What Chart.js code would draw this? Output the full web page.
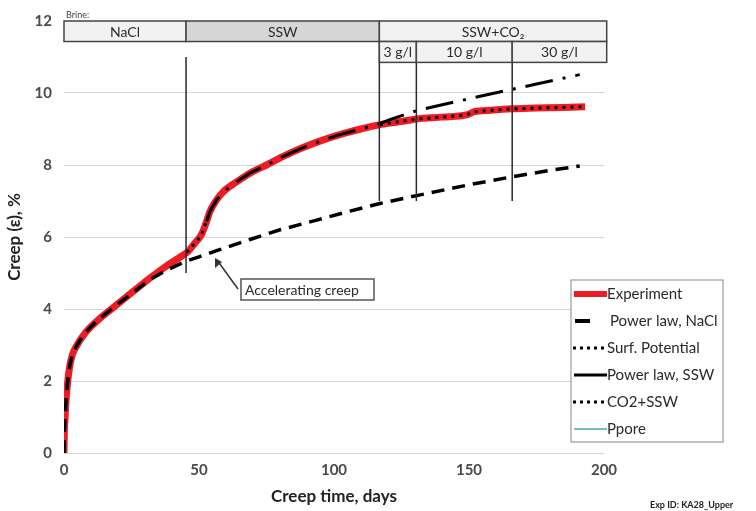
<!DOCTYPE html>
<html>
<head>
<meta charset="utf-8">
<script src="https://cdn.jsdelivr.net/npm/chart.js@4.4.0/dist/chart.umd.min.js"></script>
<style>
html, body { margin: 0; background: #fff; }
</style>
</head>
<body>
<canvas id="creep-chart" width="756" height="511"></canvas>
<script>
// creep data (days, creep %)
var expDays  = [0, 0.1, 0.4, 0.8, 1.4, 2.2, 3.2, 4.7, 7, 9.6, 13, 17.6, 25, 32, 38, 44.2, 46, 47.9, 49.5, 51, 52.8, 54, 56.5, 59, 63.9, 69, 75, 81, 87.4, 95, 103.4, 110, 117, 124, 130.6, 140, 149, 152, 158, 165.8, 175, 185, 193];
var expCreep = [0, 0.5, 1.0, 1.5, 2.0, 2.45, 2.75, 2.98, 3.25, 3.48, 3.72, 4.0, 4.45, 4.87, 5.2, 5.5, 5.6, 5.78, 5.92, 6.08, 6.43, 6.7, 7.03, 7.26, 7.53, 7.78, 8.0, 8.23, 8.45, 8.67, 8.87, 9.0, 9.12, 9.2, 9.28, 9.33, 9.39, 9.48, 9.52, 9.56, 9.58, 9.6, 9.62];

var naclDays  = [0, 0.1, 0.4, 0.8, 1.4, 2.2, 3.2, 4.7, 7, 9.6, 13, 17.6, 25, 32, 38, 45, 50, 56.5, 68.9, 80, 93.6, 105.9, 117, 130.6, 150, 165.8, 180, 191];
var naclCreep = [0, 0.5, 1.0, 1.5, 2.0, 2.45, 2.75, 2.98, 3.25, 3.48, 3.72, 4.0, 4.43, 4.82, 5.08, 5.32, 5.45, 5.62, 5.93, 6.2, 6.47, 6.72, 6.93, 7.15, 7.45, 7.67, 7.85, 7.97];

var surfDays  = [45.5, 47.9, 49.5, 51, 52.8, 54, 56.5];
var surfCreep = [5.58, 5.78, 5.92, 6.08, 6.43, 6.7, 7.03];

var sswDays  = [52.8, 54, 56.5, 59, 63.9, 69, 75, 81, 87.4, 95, 103.4, 110, 117, 120.7, 130.6, 141.7, 150, 164, 175, 191];
var sswCreep = [6.43, 6.7, 7.03, 7.26, 7.53, 7.78, 8.0, 8.23, 8.45, 8.67, 8.87, 9.0, 9.15, 9.26, 9.51, 9.7, 9.84, 10.07, 10.25, 10.51];

var co2Days  = [117, 124, 130.6, 140, 149, 152, 158, 165.8, 175, 185, 193];
var co2Creep = [9.12, 9.2, 9.28, 9.33, 9.39, 9.48, 9.52, 9.56, 9.58, 9.6, 9.62];

// brine change markers
var markerDays = [45.2, 116.8, 130.5, 166];
var markerLow  = [5, 7, 7, 7];
var markerHigh = [11, 11.43, 11.43, 11.43];

// brine band labels
var brineNames = ['NaCl', 'SSW', 'SSW+CO\u2082'];
var brineStart = [0, 45.2, 116.8];
var brineEnd   = [45.2, 116.8, 201];
var co2Names = ['3 g/l', '10 g/l', '30 g/l'];
var co2Start = [116.8, 130.5, 166];
var co2End   = [130.5, 166, 201];

var legendLabels = ['Experiment', 'Power law, NaCl', 'Surf. Potential', 'Power law, SSW', 'CO2+SSW', 'Ppore'];

var FONT = 'Lato, "Open Sans", sans-serif';

function pts(xs, ys) {
    return xs.map(function(v, i) { return {x: v, y: ys[i]}; });
}

var markerSets = markerDays.map(function(d, i) {
    return {
        data: [{x: d, y: markerLow[i]}, {x: d, y: markerHigh[i]}],
        borderColor: '#2a2a2a',
        borderWidth: 1.5,
        pointRadius: 0,
        order: 0
    };
});

var bandPlugin = {
    id: 'brineBand',
    afterDraw: function(chart) {
        var ctx = chart.ctx;
        var x = chart.scales.x, y = chart.scales.y;
        ctx.save();
        var r1t = y.getPixelForValue(12), r1b = y.getPixelForValue(11.43), r2b = y.getPixelForValue(10.85);
        ctx.lineWidth = 1.5;
        ctx.strokeStyle = '#444';
        ctx.textAlign = 'center';
        ctx.textBaseline = 'middle';
        ctx.fillStyle = '#333';
        for (var i = 0; i < brineNames.length; i++) {
            var a = x.getPixelForValue(brineStart[i]), b = x.getPixelForValue(brineEnd[i]);
            ctx.fillStyle = i === 1 ? '#d6d6d6' : '#f2f2f2';
            ctx.fillRect(a, r1t, b - a, r1b - r1t);
            ctx.strokeRect(a, r1t, b - a, r1b - r1t);
            ctx.fillStyle = '#2a2a2a';
            ctx.font = '14px ' + FONT;
            ctx.fillText(brineNames[i], (a + b) / 2, (r1t + r1b) / 2 + 1);
        }
        for (var j = 0; j < co2Names.length; j++) {
            var c = x.getPixelForValue(co2Start[j]), d = x.getPixelForValue(co2End[j]);
            ctx.fillStyle = '#f2f2f2';
            ctx.fillRect(c, r1b, d - c, r2b - r1b);
            ctx.strokeRect(c, r1b, d - c, r2b - r1b);
            ctx.fillStyle = '#2a2a2a';
            ctx.font = '14px ' + FONT;
            ctx.fillText(co2Names[j], (c + d) / 2, (r1b + r2b) / 2 + 1);
        }
        ctx.font = '9px ' + FONT;
        ctx.textAlign = 'left';
        ctx.fillStyle = '#444';
        ctx.fillText('Brine:', x.left + 2, r1t - 6);

        // accelerating creep note
        ctx.lineWidth = 1.5;
        ctx.strokeStyle = '#555';
        ctx.fillStyle = '#fff';
        ctx.fillRect(241, 279, 133, 21);
        ctx.strokeRect(241, 279, 133, 21);
        ctx.fillStyle = '#2a2a2a';
        ctx.font = '14px ' + FONT;
        ctx.fillText('Accelerating creep', 245, 290);
        ctx.strokeStyle = '#333';
        ctx.beginPath();
        ctx.moveTo(238, 289);
        ctx.lineTo(217, 260);
        ctx.stroke();
        ctx.beginPath();
        ctx.moveTo(215, 258);
        ctx.lineTo(215, 268);
        ctx.lineTo(222, 262);
        ctx.closePath();
        ctx.fillStyle = '#333';
        ctx.fill();

        // legend
        var lx = 571, ly = 280;
        ctx.fillStyle = '#fff';
        ctx.fillRect(lx, ly, 152, 162);
        ctx.strokeStyle = '#888';
        ctx.lineWidth = 1;
        ctx.strokeRect(lx, ly, 152, 162);
        ctx.font = '15px ' + FONT;
        ctx.textBaseline = 'middle';
        for (var k = 0; k < legendLabels.length; k++) {
            var yy = ly + 14 + k * 27;
            ctx.save();
            ctx.beginPath();
            if (k === 0) { ctx.strokeStyle = '#ee1c24'; ctx.lineWidth = 6; ctx.moveTo(574, yy); ctx.lineTo(607, yy); }
            if (k === 1) { ctx.strokeStyle = '#000'; ctx.lineWidth = 4; ctx.moveTo(575, yy); ctx.lineTo(590, yy); }
            if (k === 2 || k === 4) { ctx.strokeStyle = '#000'; ctx.lineWidth = 3; ctx.setLineDash([3, 4]); ctx.moveTo(573, yy); ctx.lineTo(607, yy); }
            if (k === 3) { ctx.strokeStyle = '#000'; ctx.lineWidth = 3; ctx.moveTo(574, yy); ctx.lineTo(607, yy); }
            if (k === 5) { ctx.strokeStyle = '#7ab8cc'; ctx.lineWidth = 2; ctx.moveTo(574, yy); ctx.lineTo(607, yy); }
            ctx.stroke();
            ctx.restore();
            ctx.fillStyle = '#2a2a2a';
            ctx.fillText(legendLabels[k], k === 1 ? 610 : 607, yy);
        }

        ctx.font = 'bold 9px ' + FONT;
        ctx.fillStyle = '#222';
        ctx.fillText('Exp ID: KA28_Upper', 650, 505);
        ctx.restore();
    }
};

var ctx = document.getElementById('creep-chart');
var chart = new Chart(ctx, {
    type: 'line',
    data: {
        datasets: [{
            label: 'Power law, NaCl',
            data: pts(naclDays, naclCreep),
            borderColor: '#000',
            borderWidth: 3.5,
            borderDash: [13, 8],
            pointRadius: 0,
            order: 1
        }, {
            label: 'Surf. Potential',
            data: pts(surfDays, surfCreep),
            borderColor: '#000',
            borderWidth: 3,
            borderDash: [3, 5],
            pointRadius: 0,
            order: 1
        }, {
            label: 'Power law, SSW',
            data: pts(sswDays, sswCreep),
            borderColor: '#000',
            borderWidth: 3,
            borderDash: [28, 10, 3, 10],
            pointRadius: 0,
            order: 1
        }, {
            label: 'CO2+SSW',
            data: pts(co2Days, co2Creep),
            borderColor: '#000',
            borderWidth: 3,
            borderDash: [3, 5],
            pointRadius: 0,
            order: 1
        }, {
            label: 'Experiment',
            data: pts(expDays, expCreep),
            borderColor: '#ee1c24',
            borderWidth: 7,
            pointRadius: 0,
            cubicInterpolationMode: 'monotone',
            order: 2
        }].concat(markerSets)
    },
    options: {
        responsive: false,
        animation: false,
        layout: { padding: { top: 18, right: 152, left: 0, bottom: 0 } },
        plugins: { legend: { display: false }, tooltip: { enabled: false } },
        scales: {
            x: {
                type: 'linear',
                min: 0, max: 200,
                ticks: { stepSize: 50, padding: 8, color: '#4a4a4a', font: { family: FONT, size: 15, weight: 'bold' } },
                grid: { display: false, drawTicks: false },
                border: { display: false },
                title: { display: true, text: 'Creep time, days', color: '#222', padding: { top: 0, bottom: 4 }, font: { family: FONT, size: 17, weight: 'bold' } },
                afterFit: function(s) { s.height = 58; }
            },
            y: {
                min: 0, max: 12,
                ticks: { stepSize: 2, padding: 12, color: '#4a4a4a', font: { family: FONT, size: 15, weight: 'bold' } },
                grid: { color: '#d4d4d4', lineWidth: 1, drawTicks: false },
                border: { display: false },
                title: { display: true, text: 'Creep (\u03b5), %', color: '#222', padding: { top: 4, bottom: 0 }, font: { family: FONT, size: 17, weight: 'bold' } },
                afterFit: function(s) { s.width = 64; }
            }
        }
    },
    plugins: [bandPlugin]
});
</script>
</body>
</html>
